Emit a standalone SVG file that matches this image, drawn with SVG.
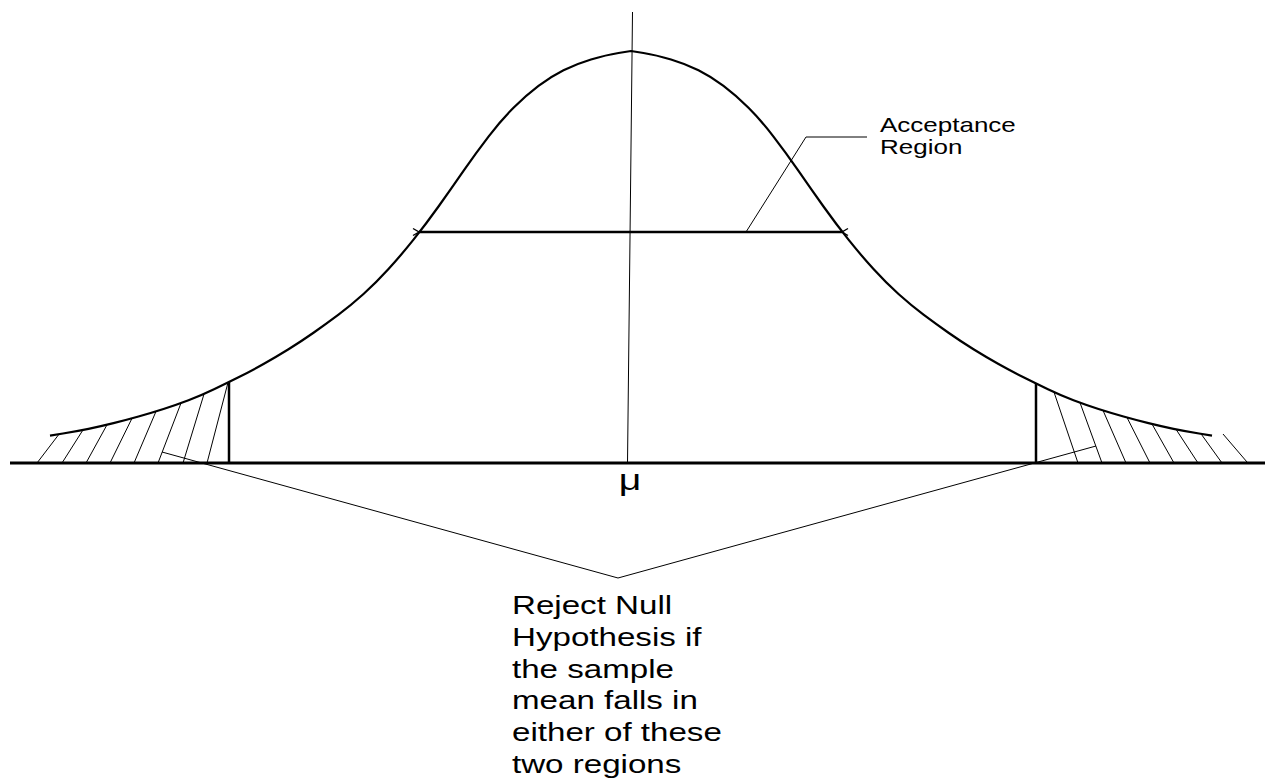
<svg xmlns="http://www.w3.org/2000/svg" width="1265" height="778" viewBox="0 0 1265 778">
  <style>
    .thin { stroke: #000; stroke-width: 1; fill: none; }
    .hatch { stroke: #000; stroke-width: 1; fill: none; }
    .thick { stroke: #000; stroke-width: 2.5; fill: none; }
    .curve { stroke: #000; stroke-width: 2.2; fill: none; stroke-linejoin: round; }
    .lbl { font-family: "Liberation Sans", Arial, sans-serif; fill: #000; }
  </style>
  <defs>
    <marker id="arr" viewBox="-1 -5 10 10" refX="0" refY="0" markerWidth="10" markerHeight="10" markerUnits="userSpaceOnUse" orient="auto-start-reverse">
      <path d="M6,-3.5 L0,0 L6,3.5" fill="none" stroke="#000" stroke-width="1.4"/>
    </marker>
  </defs>
  <rect width="1265" height="778" fill="#fff"/>

  <g id="axis">
    <line class="thin" x1="632.5" y1="12" x2="627.5" y2="463"/>
  </g>

  <g id="bell-curve">
    <path class="curve" d="M50,435.7 L63,433.5 Q76,431.3 88.5,428.8 Q101,426.3 113.5,423.15 Q126,420 138.5,416.5 Q151,413 163.5,409 Q176,405 188.5,400.25 Q201,395.5 213.5,389.5 Q226,383.5 238.5,377.25 Q251,371 263.5,364 Q276,357 288.5,349.25 Q301,341.5 313.5,332.75 Q326,324 338.5,314.65 Q351,305.3 363.5,294.05 Q376,282.8 388.5,269.05 Q401,255.3 413.5,239.65 Q426,224 438.5,206.5 Q451,189 463.5,170.9 Q476,152.8 488.5,136.55 Q501,120.3 513.5,107.8 Q526,95.3 538.5,85.9 Q551,76.5 563.5,70.25 Q576,64 591,59.5 Q606,55 618.5,53 L631,51 L643.5,53 Q656,55 671,59.5 Q686,64 698.5,70.25 Q711,76.5 723.5,85.9 Q736,95.3 748.5,107.8 Q761,120.3 773.5,136.55 Q786,152.8 798.5,170.9 Q811,189 823.5,206.5 Q836,224 848.5,239.65 Q861,255.3 873.5,269.05 Q886,282.8 898.5,294.05 Q911,305.3 923.5,314.65 Q936,324 948.5,332.75 Q961,341.5 973.5,349.25 Q986,357 998.5,364 Q1011,371 1023.5,377.25 Q1036,383.5 1048.5,389.5 Q1061,395.5 1073.5,400.25 Q1086,405 1098.5,409 Q1111,413 1123.5,416.5 Q1136,420 1148.5,423.15 Q1161,426.3 1173.5,428.8 Q1186,431.3 1199,433.5 L1212,435.7"/>
  </g>

  <g id="baseline">
    <line x1="10" y1="463" x2="1265" y2="463" stroke="#000" stroke-width="3"/>
  </g>

  <g id="left-reject-region">
    <line class="thick" x1="229" y1="382" x2="229" y2="463"/>
    <line class="hatch" x1="37" y1="463" x2="59" y2="434.2"/>
    <line class="hatch" x1="62" y1="463" x2="83" y2="429.9"/>
    <line class="hatch" x1="86" y1="463" x2="107" y2="424.8"/>
    <line class="hatch" x1="110" y1="463" x2="132" y2="418.3"/>
    <line class="hatch" x1="134" y1="463" x2="156" y2="411.4"/>
    <line class="hatch" x1="158" y1="463" x2="181" y2="403.1"/>
    <line class="hatch" x1="183" y1="463" x2="204" y2="394.1"/>
    <line class="hatch" x1="207" y1="463" x2="228" y2="382.5"/>
  </g>

  <g id="right-reject-region">
    <line class="thick" x1="1036" y1="383" x2="1036" y2="463"/>
    <line class="hatch" x1="1054" y1="392.1" x2="1078" y2="463"/>
    <line class="hatch" x1="1080" y1="402.7" x2="1102" y2="463"/>
    <line class="hatch" x1="1103" y1="410.4" x2="1126" y2="463"/>
    <line class="hatch" x1="1127" y1="417.5" x2="1150" y2="463"/>
    <line class="hatch" x1="1152" y1="424" x2="1174" y2="463"/>
    <line class="hatch" x1="1176" y1="429.3" x2="1198" y2="463"/>
    <line class="hatch" x1="1201" y1="433.8" x2="1222" y2="463"/>
    <line class="hatch" x1="1223" y1="434" x2="1247" y2="462"/>
  </g>

  <g id="acceptance-region">
    <line class="thick" x1="419" y1="232" x2="842" y2="232" marker-start="url(#arr)" marker-end="url(#arr)"/>
    <g transform="translate(880,0) scale(1.3,1)">
      <text class="lbl" x="0" y="132" font-size="20">Acceptance</text>
      <text class="lbl" x="0" y="154.5" font-size="20">Region</text>
    </g>
  </g>

  <g id="mu-label">
    <text class="lbl" transform="translate(630,490) scale(1.35,1)" x="0" y="0" font-size="29" text-anchor="middle">μ</text>
  </g>

  <g id="reject-label">
    <g transform="translate(512,0) scale(1.25,1)">
      <text class="lbl" x="0" y="614.5" font-size="26.5">Reject Null</text>
      <text class="lbl" x="0" y="646.2" font-size="26.5">Hypothesis if</text>
      <text class="lbl" x="0" y="677.8" font-size="26.5">the sample</text>
      <text class="lbl" x="0" y="709.5" font-size="26.5">mean falls in</text>
      <text class="lbl" x="0" y="741.1" font-size="26.5">either of these</text>
      <text class="lbl" x="0" y="772.8" font-size="26.5">two regions</text>
    </g>
  </g>

  <g id="connectors">
    <polyline class="thin" points="746,232 806,137 867,137"/>
    <polyline class="thin" points="162,452 618,578 1096,446"/>
  </g>
</svg>
